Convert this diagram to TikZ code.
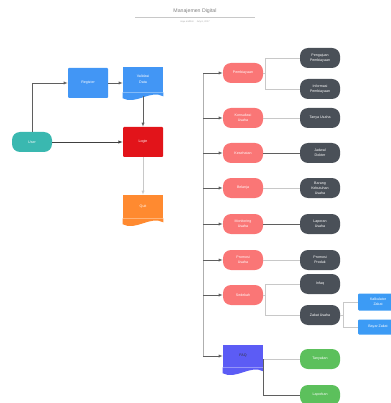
\documentclass[tikz,border=0pt]{standalone}
\usepackage{fontspec}
\setmainfont{Liberation Sans}
\usetikzlibrary {positioning}
\definecolor{registerblue}{RGB}{66,150,245}
\definecolor{userteal}{RGB}{58,184,176}
\definecolor{loginred}{RGB}{226,20,26}
\definecolor{quitorange}{RGB}{255,138,48}
\definecolor{menupink}{RGB}{250,118,118}
\definecolor{subdark}{RGB}{74,80,88}
\definecolor{faqviolet}{RGB}{92,92,245}
\definecolor{replygreen}{RGB}{92,192,92}
\definecolor{zakatblue}{RGB}{60,155,245}
\definecolor{wiregray}{RGB}{95,95,95}
\definecolor{lightwire}{RGB}{200,200,200}
\newcommand{\docwave}[2]{\fill[#2] (#1.south west) -- ++(0,6) .. controls +(13,7) and +(-13,-7) .. ([yshift=-4pt]#1.south east) -- (#1.south east) -- cycle;}

\begin{document}
\begin{tikzpicture}[x=1pt, y=-1pt, on grid, semithick, font=\fontsize{3.6}{4.3}\selectfont,
	box/.style={rectangle, rounded corners=1pt, minimum width=40pt, minimum height=30pt, inner sep=1pt, text=white, align=center},
	docbox/.style={rectangle, minimum width=40pt, inner sep=1pt, text=white, align=center},
	pill/.style={rectangle, rounded corners=8pt, minimum width=40pt, minimum height=20pt, inner sep=1pt, text=white, align=center},
	arrow/.style={-latex, wiregray, line width=0.4pt},
	link/.style={lightwire, line width=0.5pt}]
	\useasboundingbox (0,0) rectangle (390,403);
	\node [text=gray, font=\fontsize{5.2}{6}\selectfont] (title) at (195,11) {Manajemen Digital};
	\node [text=gray!70, font=\fontsize{2.4}{3}\selectfont] (subtitle) at (195,21.5) {sayu andhini \quad July 6, 2017};
	\draw [lightwire, line width=0.4pt] (135,17) -- (255,17);
	% login side
	\node [pill, fill=userteal] (user) at (32,142) {User};
	\node [box, fill=loginred] (login) [right =111pt of user] {Login};
	\node [box, fill=registerblue] (register) at (88,83) {Register};
	\node [docbox, fill=registerblue, minimum height=25pt] (valid) [above =62.5pt of login] {Validasi\\[2pt]Data};
	\docwave{valid}{registerblue}
	\node [docbox, fill=quitorange, minimum height=23pt] (quit) [below =64.5pt of login] {Quit};
	\docwave{quit}{quitorange}
	\draw [arrow] (user.north) |- (register.west);
	\draw [arrow] (register.east) -- (register.east -| valid.west);
	\draw [arrow] ([yshift=-4pt]valid.south) -- (login.north);
	\draw [arrow, line width=0.5pt, black!75] (user) -- (login);
	\draw [-latex, lightwire, line width=0.4pt] (login) -- (quit);
	% menu
	\node [pill, fill=menupink] (pemb) at (243,73) {Pembiayaan};
	\node [pill, fill=menupink] (konsul) [below =45pt of pemb] {Konsultasi\\[1pt]Usaha};
	\node [pill, fill=menupink] (sehat) [below =35pt of konsul] {Kesehatan};
	\node [pill, fill=menupink] (belanja) [below =35pt of sehat] {Belanja};
	\node [pill, fill=menupink] (monitor) [below =36pt of belanja] {Monitoring\\[1pt]Usaha};
	\node [pill, fill=menupink] (promosi) [below =36pt of monitor] {Promosi\\[1pt]Usaha};
	\node [pill, fill=menupink] (sedekah) [below =35pt of promosi] {Sedekah};
	\node [docbox, fill=faqviolet, minimum height=22pt, text=black!80] (faq) [below =61pt of sedekah] {FAQ};
	\docwave{faq}{faqviolet}
	\coordinate (trunktop) at (203,73);
	\draw [wiregray!50, line width=0.5pt, rounded corners=1pt] (trunktop) -- (trunktop |- faq);
	\foreach \m in {pemb,konsul,sehat,belanja,monitor,promosi,sedekah,faq}
		\draw [arrow] (trunktop |- \m) -- (\m);
	% sub menu
	\node [pill, fill=subdark] (ajuan) at (320,58) {Pengajuan\\[1pt]Pembiayaan};
	\node [pill, fill=subdark] (info) [below =31pt of ajuan] {Informasi\\[1pt]Pembiayaan};
	\node [pill, fill=subdark] (tanya) [right =77pt of konsul] {Tanya Usaha};
	\node [pill, fill=subdark] (jadwal) [right =77pt of sehat] {Jadwal\\[1pt]Dokter};
	\node [pill, fill=subdark] (barang) [right =77pt of belanja] {Barang\\[0.5pt]Kebutuhan\\[0.5pt]Usaha};
	\node [pill, fill=subdark] (lapusaha) [right =77pt of monitor] {Laporan\\[1pt]Usaha};
	\node [pill, fill=subdark] (produk) [right =77pt of promosi] {Promosi\\[1pt]Produk};
	\node [pill, fill=subdark] (infaq) at (320,284) {Infaq};
	\node [pill, fill=subdark] (zakat) [below =31pt of infaq] {Zakat Usaha};
	\node [box, fill=zakatblue, minimum height=17pt] (kalk) at (378,302) {Kalkulator\\[1pt]Zakat};
	\node [box, fill=zakatblue, minimum height=15pt] (bayar) [below =25pt of kalk] {Bayar Zakat};
	\node [pill, fill=replygreen] (tanyakan) at (320,359) {Tanyakan};
	\node [pill, fill=replygreen] (laporkan) [below =36pt of tanyakan] {Laporkan};
	\draw [link] (pemb.east) -- ++(2,0) |- (ajuan.west);
	\draw [link] (pemb.east) -- ++(2,0) |- (info.west);
	\draw [link] (konsul) -- (tanya);
	\draw [link, wiregray] (sehat) -- (jadwal);
	\draw [link] (belanja) -- (barang);
	\draw [link, wiregray] (monitor) -- (lapusaha);
	\draw [link] (promosi) -- (produk);
	\draw [link] (sedekah.east) -- ++(2,0) |- (infaq.west);
	\draw [link] (sedekah.east) -- ++(2,0) |- (zakat.west);
	\draw [link] (zakat.east) -- ++(3,0) |- (kalk.west);
	\draw [link] (zakat.east) -- ++(3,0) |- (bayar.west);
	\draw [link] (faq.east |- tanyakan) -- (tanyakan.west);
	\draw [link, wiregray] (faq.east |- tanyakan) |- (laporkan.west);
\end{tikzpicture}
\end{document}
